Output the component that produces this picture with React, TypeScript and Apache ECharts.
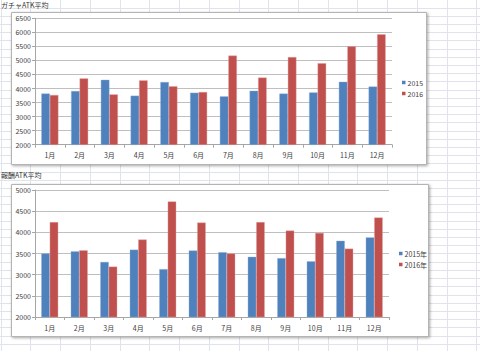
import React, { useEffect, useRef } from "react";
import * as echarts from "echarts";

const months = ["1月", "2月", "3月", "4月", "5月", "6月", "7月", "8月", "9月", "10月", "11月", "12月"];

const gachaTitle = "ガチャATK平均";
const gacha2015 = [3820, 3910, 4310, 3745, 4230, 3850, 3720, 3920, 3820, 3860, 4240, 4070];
const gacha2016 = [3770, 4360, 3790, 4290, 4080, 3875, 5170, 4390, 5120, 4900, 5500, 5930];
const gachaLegend = ["2015", "2016"];

const rewardTitle = "報酬ATK平均";
const reward2015 = [3500, 3550, 3300, 3590, 3130, 3570, 3530, 3420, 3390, 3315, 3800, 3880];
const reward2016 = [4240, 3575, 3190, 3830, 4730, 4230, 3500, 4240, 4040, 3985, 3615, 4350];
const rewardLegend = ["2015年", "2016年"];

const BLUE = "#4F81BD";
const RED = "#C0504D";
const FONT = "'Noto Sans CJK JP', 'Noto Sans', sans-serif";

export default function App() {
  const ref = useRef<HTMLDivElement>(null);

  useEffect(() => {
    if (!ref.current) return;
    const chart = echarts.init(ref.current, undefined, { renderer: "svg" });

    const bg: any[] = [];
    for (let k = 0; k < 17; k++) {
      const x = Math.round(0.7 + 29.73 * k) + 0.5;
      bg.push({ type: "line", z: 0, silent: true, shape: { x1: x, y1: 0, x2: x, y2: 351 }, style: { stroke: "#dfe3ec", lineWidth: 1 } });
    }
    for (let k = 0; k < 43; k++) {
      const y = Math.round(7.5 + 8.2 * k) + 0.5;
      bg.push({ type: "line", z: 0, silent: true, shape: { x1: 0, y1: y, x2: 480, y2: y }, style: { stroke: "#dfe3ec", lineWidth: 1 } });
    }
    const box = (x: number, y: number, w: number, h: number) => ({
      type: "rect",
      z: 1,
      silent: true,
      shape: { x, y, width: w, height: h },
      style: {
        fill: "#ffffff",
        stroke: "#b4b4b4",
        lineWidth: 1,
        shadowBlur: 3,
        shadowOffsetX: 1,
        shadowOffsetY: 1,
        shadowColor: "rgba(0,0,0,0.35)",
      },
    });
    const title = (text: string, x: number, y: number) => ({
      type: "text",
      z: 1,
      x,
      y,
      style: { text, fill: "#333333", fontSize: 7, fontFamily: FONT, textVerticalAlign: "middle" },
    });

    const yAxis = (gridIndex: number, max: number) => ({
      type: "value",
      gridIndex,
      min: 2000,
      max,
      interval: 500,
      z: 5,
      axisLine: { show: true, lineStyle: { color: "#a6a6a6", width: 1 } },
      axisTick: { show: true, length: 3, lineStyle: { color: "#a6a6a6" } },
      axisLabel: { fontSize: 7, color: "#404040", fontFamily: FONT, margin: 4, formatter: (v: number) => String(v) },
      splitLine: { show: true, lineStyle: { color: "#bfbfbf", width: 1 } },
    });
    const xAxis = (gridIndex: number) => ({
      type: "category",
      gridIndex,
      data: months,
      z: 5,
      axisLine: { show: true, lineStyle: { color: "#a6a6a6", width: 1 } },
      axisTick: { show: true, length: 3, alignWithLabel: false, lineStyle: { color: "#a6a6a6" } },
      axisLabel: { fontSize: 7, color: "#404040", fontFamily: FONT, margin: 7, interval: 0 },
      splitLine: { show: false },
    });
    const bar = (name: string, data: number[], color: string, idx: number) => ({
      type: "bar",
      name,
      data,
      xAxisIndex: idx,
      yAxisIndex: idx,
      z: 6,
      barGap: "0%",
      barCategoryGap: "42.8%",
      itemStyle: { color, borderColor: color === BLUE ? "#8fb0dc" : "#e3a3a1", borderWidth: 0.4 },
    });
    const legend = (data: string[], left: number, top: number) => ({
      orient: "vertical",
      left,
      top,
      data,
      z: 7,
      itemWidth: 3.5,
      itemHeight: 3.5,
      itemGap: 4,
      icon: "rect",
      itemStyle: { borderWidth: 0 },
      textStyle: { fontSize: 7, color: "#404040", fontFamily: FONT, padding: [0, 0, 0, -3] },
      padding: 0,
    });

    chart.setOption({
      animation: false,
      graphic: [
        ...bg,
        box(11.5, 12.5, 415, 152),
        box(11.5, 184.5, 417, 152),
        title(gachaTitle, 1, 5),
        title(rewardTitle, 1, 175),
      ],
      grid: [
        { left: 35, right: 88, top: 18.3, bottom: 206.3, containLabel: false },
        { left: 35, right: 91, top: 190, bottom: 34, containLabel: false },
      ],
      xAxis: [xAxis(0), xAxis(1)],
      yAxis: [yAxis(0, 6500), yAxis(1, 5000)],
      legend: [legend(gachaLegend, 402, 79), legend(rewardLegend, 399, 250)],
      series: [
        bar(gachaLegend[0], gacha2015, BLUE, 0),
        bar(gachaLegend[1], gacha2016, RED, 0),
        bar(rewardLegend[0], reward2015, BLUE, 1),
        bar(rewardLegend[1], reward2016, RED, 1),
      ],
    });

    return () => chart.dispose();
  }, []);

  return (
    <div
      ref={ref}
      style={{ position: "fixed", left: 0, top: 0, width: 480, height: 351, background: "#ffffff" }}
    />
  );
}
